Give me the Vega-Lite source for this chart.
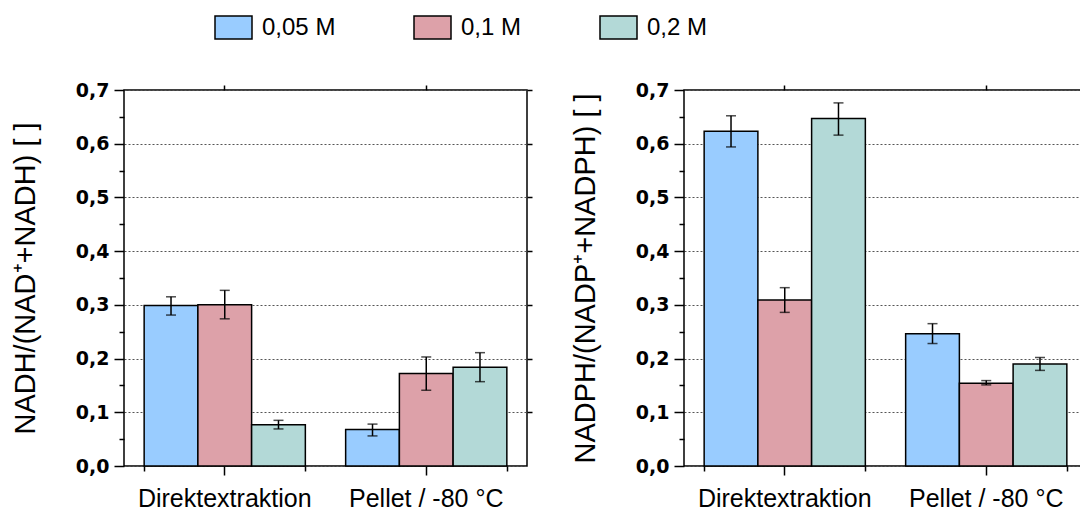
{
  "$schema": "https://vega.github.io/schema/vega-lite/v6.json",
  "padding": {"left": 10, "top": 8, "right": 0, "bottom": 0},
  "background": "white",
  "config": {
    "font": "Liberation Sans",
    "view": {"stroke": "black", "strokeWidth": 1.5},
    "axis": {"labelFont": "Liberation Sans", "titleFont": "Liberation Sans", "labelColor": "black", "titleColor": "black", "tickColor": "black", "domainColor": "black"}
  },
  "datasets": {
    "nadh": [
      {"cat": "Direktextraktion", "conc": "0,05 M", "value": 0.299, "lo": 0.281, "hi": 0.315},
      {"cat": "Direktextraktion", "conc": "0,1 M", "value": 0.300, "lo": 0.274, "hi": 0.327},
      {"cat": "Direktextraktion", "conc": "0,2 M", "value": 0.077, "lo": 0.069, "hi": 0.085},
      {"cat": "Pellet / -80 °C", "conc": "0,05 M", "value": 0.068, "lo": 0.056, "hi": 0.078},
      {"cat": "Pellet / -80 °C", "conc": "0,1 M", "value": 0.172, "lo": 0.141, "hi": 0.203},
      {"cat": "Pellet / -80 °C", "conc": "0,2 M", "value": 0.184, "lo": 0.157, "hi": 0.211}
    ],
    "nadph": [
      {"cat": "Direktextraktion", "conc": "0,05 M", "value": 0.623, "lo": 0.594, "hi": 0.652},
      {"cat": "Direktextraktion", "conc": "0,1 M", "value": 0.309, "lo": 0.286, "hi": 0.332},
      {"cat": "Direktextraktion", "conc": "0,2 M", "value": 0.647, "lo": 0.616, "hi": 0.676},
      {"cat": "Pellet / -80 °C", "conc": "0,05 M", "value": 0.246, "lo": 0.228, "hi": 0.265},
      {"cat": "Pellet / -80 °C", "conc": "0,1 M", "value": 0.154, "lo": 0.151, "hi": 0.159},
      {"cat": "Pellet / -80 °C", "conc": "0,2 M", "value": 0.190, "lo": 0.178, "hi": 0.202}
    ]
  },
  "spacing": 36,
  "hconcat": [
    {
      "width": 403, "height": 376,
      "data": {"name": "nadh"},
      "layer": [
        {
          "mark": {"type": "bar", "stroke": "black", "strokeWidth": 1.5, "opacity": 1},
          "encoding": {
            "x": {"field": "cat", "type": "nominal", "sort": ["Direktextraktion", "Pellet / -80 °C"], "scale": {"paddingInner": 0.2, "paddingOuter": 0.1},
              "axis": {"orient": "bottom", "title": null, "labelAngle": 0, "labelFontSize": 25, "labelPadding": 11, "tickSize": 9, "tickWidth": 1.5, "domain": false, "grid": false}},
            "xOffset": {"field": "conc", "type": "nominal", "sort": ["0,05 M", "0,1 M", "0,2 M"], "scale": {"paddingInner": 0, "paddingOuter": 0}},
            "y": {"field": "value", "type": "quantitative", "scale": {"domain": [0, 0.7], "nice": false},
              "axis": {"orient": "left", "values": [0, 0.1, 0.2, 0.3, 0.4, 0.5, 0.6, 0.7], "labelExpr": "replace(format(datum.value, '.1f'), '.', ',')", "labelFont": "DejaVu Sans", "labelFontSize": 19, "labelFontWeight": "bold", "labelPadding": 5, "tickSize": 10, "tickWidth": 1.5, "domain": false, "grid": true, "gridDash": [2, 2], "gridColor": "#555555", "gridWidth": 1, "title": "NADH/(NAD⁺+NADH) [ ]", "titleFontSize": 29, "titleFontWeight": "normal", "titlePadding": 35}},
            "color": {"field": "conc", "type": "nominal", "sort": ["0,05 M", "0,1 M", "0,2 M"],
              "scale": {"domain": ["0,05 M", "0,1 M", "0,2 M"], "range": ["#99CCFF", "#DDA1A9", "#B3D9D7"]},
              "legend": {"orient": "none", "legendX": 90, "legendY": -82, "direction": "horizontal", "title": null, "symbolType": "M-1,-0.62L1,-0.62L1,0.62L-1,0.62Z", "symbolSize": 1369, "symbolStrokeColor": "black", "symbolStrokeWidth": 1.5, "symbolOpacity": 1, "labelFontSize": 24, "labelFont": "Liberation Sans", "labelColor": "black", "labelOffset": 9, "columnPadding": 75}}
          }
        },
        {
          "mark": {"type": "rule", "color": "black", "strokeWidth": 1.5},
          "encoding": {
            "x": {"field": "cat", "type": "nominal", "sort": ["Direktextraktion", "Pellet / -80 °C"],
              "axis": {"orient": "bottom", "title": null, "labels": false, "tickBand": "extent", "tickSize": 5, "tickWidth": 1.5, "domain": false, "grid": false}},
            "xOffset": {"field": "conc", "type": "nominal", "sort": ["0,05 M", "0,1 M", "0,2 M"]},
            "y": {"field": "lo", "type": "quantitative",
              "axis": {"orient": "left", "values": [0.05, 0.15, 0.25, 0.35, 0.45, 0.55, 0.65], "labels": false, "tickSize": 5, "tickWidth": 1.5, "domain": false, "grid": false, "title": null}},
            "y2": {"field": "hi"}
          }
        },
        {
          "mark": {"type": "tick", "color": "black", "thickness": 1.5, "size": 10},
          "encoding": {
            "x": {"field": "cat", "type": "nominal", "sort": ["Direktextraktion", "Pellet / -80 °C"],
              "axis": {"orient": "top", "title": null, "labels": false, "tickSize": 5, "tickWidth": 1.5, "domain": false, "grid": false}},
            "xOffset": {"field": "conc", "type": "nominal", "sort": ["0,05 M", "0,1 M", "0,2 M"]},
            "y": {"field": "lo", "type": "quantitative",
              "axis": {"orient": "right", "values": [0.1, 0.2, 0.3, 0.4, 0.5, 0.6, 0.7], "labels": false, "tickSize": 5, "tickWidth": 1.5, "domain": false, "grid": false, "title": null}}
          }
        },
        {
          "mark": {"type": "tick", "color": "black", "thickness": 1.5, "size": 10},
          "encoding": {
            "x": {"field": "cat", "type": "nominal", "sort": ["Direktextraktion", "Pellet / -80 °C"], "axis": null},
            "xOffset": {"field": "conc", "type": "nominal", "sort": ["0,05 M", "0,1 M", "0,2 M"]},
            "y": {"field": "hi", "type": "quantitative", "axis": null}
          }
        }
      ],
      "resolve": {"axis": {"x": "independent", "y": "independent"}}
    },
    {
      "width": 403, "height": 376,
      "data": {"name": "nadph"},
      "layer": [
        {
          "mark": {"type": "bar", "stroke": "black", "strokeWidth": 1.5, "opacity": 1},
          "encoding": {
            "x": {"field": "cat", "type": "nominal", "sort": ["Direktextraktion", "Pellet / -80 °C"], "scale": {"paddingInner": 0.2, "paddingOuter": 0.1},
              "axis": {"orient": "bottom", "title": null, "labelAngle": 0, "labelFontSize": 25, "labelPadding": 11, "tickSize": 9, "tickWidth": 1.5, "domain": false, "grid": false}},
            "xOffset": {"field": "conc", "type": "nominal", "sort": ["0,05 M", "0,1 M", "0,2 M"], "scale": {"paddingInner": 0, "paddingOuter": 0}},
            "y": {"field": "value", "type": "quantitative", "scale": {"domain": [0, 0.7], "nice": false},
              "axis": {"orient": "left", "values": [0, 0.1, 0.2, 0.3, 0.4, 0.5, 0.6, 0.7], "labelExpr": "replace(format(datum.value, '.1f'), '.', ',')", "labelFont": "DejaVu Sans", "labelFontSize": 19, "labelFontWeight": "bold", "labelPadding": 5, "tickSize": 10, "tickWidth": 1.5, "domain": false, "grid": true, "gridDash": [2, 2], "gridColor": "#555555", "gridWidth": 1, "title": "NADPH/(NADP⁺+NADPH) [ ]", "titleFontSize": 29, "titleFontWeight": "normal", "titlePadding": 35}},
            "color": {"field": "conc", "type": "nominal", "sort": ["0,05 M", "0,1 M", "0,2 M"],
              "scale": {"domain": ["0,05 M", "0,1 M", "0,2 M"], "range": ["#99CCFF", "#DDA1A9", "#B3D9D7"]},
              "legend": {"orient": "none", "legendX": 90, "legendY": -82, "direction": "horizontal", "title": null, "symbolType": "M-1,-0.62L1,-0.62L1,0.62L-1,0.62Z", "symbolSize": 1369, "symbolStrokeColor": "black", "symbolStrokeWidth": 1.5, "symbolOpacity": 1, "labelFontSize": 24, "labelFont": "Liberation Sans", "labelColor": "black", "labelOffset": 9, "columnPadding": 75}}
          }
        },
        {
          "mark": {"type": "rule", "color": "black", "strokeWidth": 1.5},
          "encoding": {
            "x": {"field": "cat", "type": "nominal", "sort": ["Direktextraktion", "Pellet / -80 °C"],
              "axis": {"orient": "bottom", "title": null, "labels": false, "tickBand": "extent", "tickSize": 5, "tickWidth": 1.5, "domain": false, "grid": false}},
            "xOffset": {"field": "conc", "type": "nominal", "sort": ["0,05 M", "0,1 M", "0,2 M"]},
            "y": {"field": "lo", "type": "quantitative",
              "axis": {"orient": "left", "values": [0.05, 0.15, 0.25, 0.35, 0.45, 0.55, 0.65], "labels": false, "tickSize": 5, "tickWidth": 1.5, "domain": false, "grid": false, "title": null}},
            "y2": {"field": "hi"}
          }
        },
        {
          "mark": {"type": "tick", "color": "black", "thickness": 1.5, "size": 10},
          "encoding": {
            "x": {"field": "cat", "type": "nominal", "sort": ["Direktextraktion", "Pellet / -80 °C"],
              "axis": {"orient": "top", "title": null, "labels": false, "tickSize": 5, "tickWidth": 1.5, "domain": false, "grid": false}},
            "xOffset": {"field": "conc", "type": "nominal", "sort": ["0,05 M", "0,1 M", "0,2 M"]},
            "y": {"field": "lo", "type": "quantitative",
              "axis": {"orient": "right", "values": [0.1, 0.2, 0.3, 0.4, 0.5, 0.6, 0.7], "labels": false, "tickSize": 5, "tickWidth": 1.5, "domain": false, "grid": false, "title": null}}
          }
        },
        {
          "mark": {"type": "tick", "color": "black", "thickness": 1.5, "size": 10},
          "encoding": {
            "x": {"field": "cat", "type": "nominal", "sort": ["Direktextraktion", "Pellet / -80 °C"], "axis": null},
            "xOffset": {"field": "conc", "type": "nominal", "sort": ["0,05 M", "0,1 M", "0,2 M"]},
            "y": {"field": "hi", "type": "quantitative", "axis": null}
          }
        }
      ],
      "resolve": {"axis": {"x": "independent", "y": "independent"}}
    }
  ]
}
